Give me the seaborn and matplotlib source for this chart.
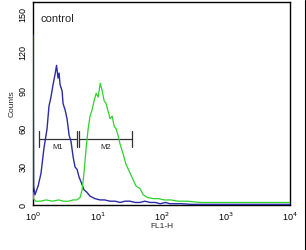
import numpy as np
import pandas as pd
import matplotlib
matplotlib.use("Agg")
import matplotlib.pyplot as plt
from matplotlib.ticker import MultipleLocator, LogLocator, NullFormatter
from matplotlib.lines import Line2D
import seaborn as sns

# ---- data ----
blue_x = [1.0, 1.02, 1.07, 1.2, 1.33, 1.48, 1.65, 1.77, 1.9, 2.05, 2.2, 2.32, 2.45, 2.54,
          2.63, 2.83, 2.93, 3.15, 3.38, 3.64, 3.9, 4.2, 4.5, 4.85, 5.2, 5.6, 6.2, 6.9,
          7.7, 9.2, 11, 13, 15.8, 19, 22.6, 27, 32, 39, 46, 55, 66, 80, 95, 115, 135,
          160, 200, 300, 500, 1000, 3000, 10000]
blue_y = [134, 15, 8, 15, 25, 45, 60, 78, 85, 95, 103, 110, 100, 104,
          95, 90, 80, 75, 68, 55, 50, 38, 30, 28, 22, 18, 12, 10,
          7, 5, 4, 4, 3, 3, 2, 3, 3, 2, 2, 3, 2, 2, 1, 2, 1,
          1, 1, 0.5, 0.5, 0.5, 0.5, 0.5]

green_x = [1.0, 1.02, 1.1, 1.3, 1.6, 2.0, 2.5, 3.0, 3.6, 4.2, 4.8, 5.4, 5.8, 6.2, 6.7,
           7.2, 7.7, 8.3, 8.9, 9.6, 10.3, 11.1, 11.9, 12.8, 13.7, 14.7, 15.8, 17,
           18.3, 19.6, 21, 22.6, 25.3, 28, 32.5, 36, 40, 46, 52, 60, 74, 90, 110,
           140, 180, 250, 400, 700, 1000, 2000, 5000, 10000]
green_y = [10, 5, 3, 3, 4, 3, 4, 3, 3, 4, 4, 6, 12, 25, 45,
           60, 70, 75, 82, 88, 85, 96, 90, 82, 80, 74, 68, 70,
           62, 60, 55, 48, 40, 32, 25, 20, 15, 13, 8, 6, 5, 5, 4,
           4, 3, 3, 2, 2, 2, 2, 2, 2]

x_ticks = [1, 10, 100, 1000, 10000]
x_ticklabels = ["10$^0$", "10$^1$", "10$^2$", "10$^3$", "10$^4$"]
y_ticks = [0, 30, 60, 90, 120, 150]

gates = [("M1", 1.24, 4.84, 52), ("M2", 5.2, 34.8, 52)]

# ---- plot ----
sns.set_style("white")
plt.rcParams['font.family'] = ['Liberation Sans', 'DejaVu Sans']

fig = plt.figure(figsize=(3.06, 2.5), dpi=100)
ax = fig.add_axes([0.108, 0.18, 0.84, 0.812])

dfb = pd.DataFrame({"x": blue_x, "y": blue_y})
dfg = pd.DataFrame({"x": green_x, "y": green_y})
sns.lineplot(data=dfb, x="x", y="y", ax=ax, color="#2b2ba6", lw=1.0, estimator=None, sort=False, zorder=3)
sns.lineplot(data=dfg, x="x", y="y", ax=ax, color="#2fd12f", lw=0.9, estimator=None, sort=False, zorder=3)

ax.set_xscale("log")
ax.set_xlim(1, 10000)
ax.set_ylim(0, 160)
ax.set_xticks(x_ticks)
ax.set_xticklabels(x_ticklabels, fontsize=6.5)
ax.xaxis.set_minor_locator(LogLocator(base=10, subs=np.arange(2, 10)))
ax.xaxis.set_minor_formatter(NullFormatter())
ax.set_yticks(y_ticks)
ax.set_yticklabels([str(v) for v in y_ticks], fontsize=6.5, rotation=90, va="center")
ax.yaxis.set_minor_locator(MultipleLocator(6))
ax.tick_params(axis="both", which="major", length=2.5, width=0.7, direction="out", pad=1.5, colors="black")
ax.tick_params(axis="both", which="minor", length=1.5, width=0.6, direction="out")
for s in ax.spines.values():
    s.set_color("black")
    s.set_linewidth(1.0)

ax.set_xlabel("FL1-H", fontsize=6, labelpad=0)
ax.set_ylabel("Counts", fontsize=6, labelpad=2)

ax.text(0.03, 0.94, "control", transform=ax.transAxes, fontsize=8, ha="left", va="top")

for name, x0, x1, yv in gates:
    ax.plot([x0, x1], [yv, yv], color="#333333", lw=0.9)
    ax.plot([x0, x0], [yv - 6, yv + 6], color="#333333", lw=0.9)
    ax.plot([x1, x1], [yv - 6, yv + 6], color="#333333", lw=0.9)
    xm = np.sqrt(x0 * x1)
    ax.text(xm, yv - 4, name, fontsize=5.5, ha="center", va="top", color="#222222")

fig.add_artist(Line2D([0.997, 0.997], [0, 1], transform=fig.transFigure, color="black", lw=0.8))

fig.savefig("out.png", dpi=100)
